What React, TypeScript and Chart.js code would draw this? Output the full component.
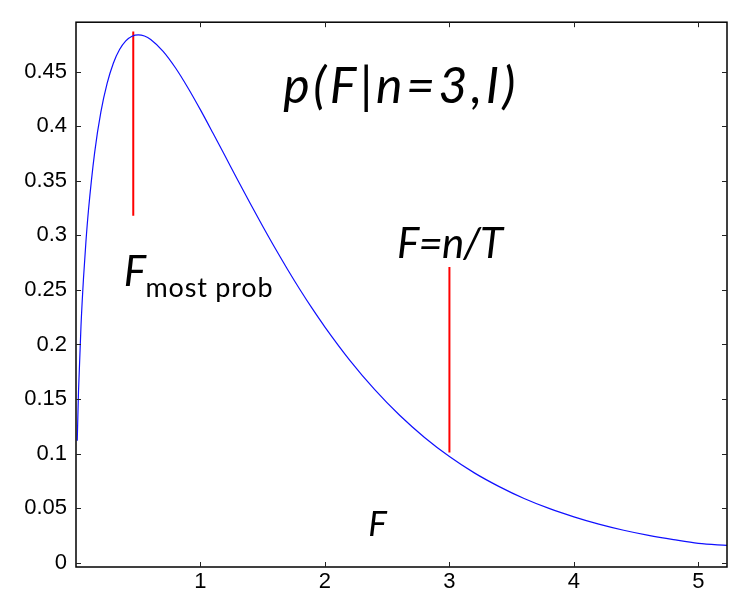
import { useEffect, useRef } from "react";
import { Chart, registerables } from "chart.js";

Chart.register(...registerables);

// Posterior density of the flux F given n = 3 counts.
const fluxValues = [
  0.01, 0.02, 0.04, 0.06, 0.08, 0.1, 0.15, 0.2, 0.25, 0.3, 0.35, 0.4, 0.45, 0.5,
  0.55, 0.6, 0.7, 0.8, 0.9, 1.0, 1.1, 1.2, 1.3, 1.4, 1.5, 1.6, 1.7, 1.8, 1.9, 2.0,
  2.2, 2.4, 2.6, 2.8, 3.0, 3.2, 3.4, 3.6, 3.8, 4.0, 4.2, 4.4, 4.6, 4.8, 5.0, 5.23,
];
const densityValues = [
  0.1117, 0.1564, 0.2168, 0.2603, 0.2946, 0.3229, 0.3762, 0.4132, 0.4394, 0.4579,
  0.4704, 0.4784, 0.4826, 0.4839, 0.4828, 0.4797, 0.4688, 0.4535, 0.4352, 0.4151,
  0.3939, 0.3723, 0.3506, 0.3292, 0.3084, 0.2882, 0.2688, 0.2502, 0.2326, 0.2160,
  0.1855, 0.1586, 0.1351, 0.1148, 0.0973, 0.0823, 0.0697, 0.0588, 0.0497, 0.0420,
  0.0353, 0.0297, 0.0250, 0.0211, 0.0177, 0.0158,
];

// Red markers: most probable F and F = n/T.
const modeMarkerX = [0.46, 0.46];
const modeMarkerY = [0.318, 0.487];
const meanMarkerX = [3, 3];
const meanMarkerY = [0.101, 0.271];

const xTickValues = [1, 2, 3, 4, 5];
const yTickValues = [0, 0.05, 0.1, 0.15, 0.2, 0.25, 0.3, 0.35, 0.4, 0.45];

const X_MIN = 0;
const X_MAX = 5.23;
const Y_MIN = -0.004;
const Y_MAX = 0.4955;

const ITALIC = "Lato, 'Open Sans', 'DejaVu Sans', sans-serif";

type Note = {
  text: string;
  x: number;
  y: number;
  font: string;
  width: number;
};

// Annotation texts anchored in data coordinates (left / baseline).
const notes: Note[] = [
  { text: "p(F|n=3,I)", x: 1.666, y: 0.421, font: `italic 50px ${ITALIC}`, width: 232 },
  { text: "F=n/T", x: 2.579, y: 0.2797, font: `italic 42px ${ITALIC}`, width: 106 },
  { text: "F", x: 0.384, y: 0.2534, font: `italic 42px ${ITALIC}`, width: 0 },
  { text: "most prob", x: 0.559, y: 0.2435, font: `27px ${ITALIC}`, width: 127 },
  { text: "F", x: 2.348, y: 0.0248, font: `italic 35px ${ITALIC}`, width: 0 },
];

const toPoints = (xs: number[], ys: number[]) => xs.map((x, i) => ({ x, y: ys[i] }));

const framePlugin = {
  id: "frameAndNotes",
  afterDatasetsDraw(chart: any) {
    const { ctx, chartArea, scales } = chart;
    const { left, right, top, bottom } = chartArea;
    const xs = scales.x;
    const ys = scales.y;
    ctx.save();

    // Box around the plot area
    ctx.strokeStyle = "#000";
    ctx.lineWidth = 1.5;
    ctx.strokeRect(left, top, right - left, bottom - top);

    // Inward tick marks on all four sides
    ctx.lineWidth = 1;
    ctx.strokeStyle = "#222";
    const len = 5;
    ctx.beginPath();
    for (const v of xTickValues) {
      const px = Math.round(xs.getPixelForValue(v)) + 0.5;
      ctx.moveTo(px, bottom);
      ctx.lineTo(px, bottom - len);
      ctx.moveTo(px, top);
      ctx.lineTo(px, top + len);
    }
    for (const v of yTickValues) {
      const py = Math.round(ys.getPixelForValue(v)) + 0.5;
      ctx.moveTo(left, py);
      ctx.lineTo(left + len, py);
      ctx.moveTo(right, py);
      ctx.lineTo(right - len, py);
    }
    ctx.stroke();

    // Text annotations
    ctx.fillStyle = "#000";
    ctx.textAlign = "left";
    ctx.textBaseline = "alphabetic";
    for (const n of notes) {
      ctx.font = n.font;
      (ctx as any).letterSpacing = "0px";
      const px = xs.getPixelForValue(n.x);
      const py = ys.getPixelForValue(n.y);
      if (n.width > 0 && n.text.length > 1) {
        const natural = ctx.measureText(n.text).width;
        const gap = (n.width - natural) / (n.text.length - 1);
        (ctx as any).letterSpacing = `${gap}px`;
      }
      ctx.fillText(n.text, px, py);
      (ctx as any).letterSpacing = "0px";
    }
    ctx.restore();
  },
};

export default function App() {
  const canvasRef = useRef<HTMLCanvasElement | null>(null);

  useEffect(() => {
    document.body.style.margin = "0";
    const canvas = canvasRef.current;
    if (!canvas) return;

    const tickFont = { family: "'Liberation Sans', Arial, sans-serif", size: 22 };

    const chart = new Chart(canvas, {
      type: "scatter",
      data: {
        datasets: [
          {
            data: toPoints(fluxValues, densityValues),
            showLine: true,
            borderColor: "#1010ff",
            borderWidth: 1.2,
            pointRadius: 0,
            cubicInterpolationMode: "monotone",
          },
          {
            data: toPoints(modeMarkerX, modeMarkerY),
            showLine: true,
            borderColor: "#ff0000",
            borderWidth: 2,
            pointRadius: 0,
          },
          {
            data: toPoints(meanMarkerX, meanMarkerY),
            showLine: true,
            borderColor: "#ff0000",
            borderWidth: 2,
            pointRadius: 0,
          },
        ],
      },
      options: {
        animation: false,
        responsive: false,
        maintainAspectRatio: false,
        layout: { padding: { top: 10, right: 5, left: 0, bottom: 0 } },
        plugins: {
          legend: { display: false },
          tooltip: { enabled: false },
        },
        scales: {
          x: {
            type: "linear",
            min: X_MIN,
            max: X_MAX,
            grid: { display: false, drawTicks: false },
            border: { display: false },
            afterBuildTicks: (scale: any) => {
              scale.ticks = xTickValues.map((value) => ({ value }));
            },
            afterFit: (scale: any) => {
              scale.height = 31;
            },
            ticks: {
              font: tickFont,
              color: "#000",
              padding: 2,
              maxRotation: 0,
              autoSkip: false,
              callback: (v: any) => String(v),
            },
          },
          y: {
            type: "linear",
            min: Y_MIN,
            max: Y_MAX,
            grid: { display: false, drawTicks: false },
            border: { display: false },
            afterBuildTicks: (scale: any) => {
              scale.ticks = yTickValues.map((value) => ({ value }));
            },
            afterFit: (scale: any) => {
              scale.width = 76;
            },
            ticks: {
              font: tickFont,
              color: "#000",
              padding: 9,
              autoSkip: false,
              callback: (v: any) => String(Number(Number(v).toFixed(2))),
            },
          },
        },
      },
      plugins: [framePlugin],
    });

    return () => chart.destroy();
  }, []);

  return (
    <div style={{ position: "absolute", left: 0, top: 0, width: 732, height: 598, background: "#fff" }}>
      <canvas ref={canvasRef} width={732} height={598} style={{ display: "block" }} />
    </div>
  );
}
